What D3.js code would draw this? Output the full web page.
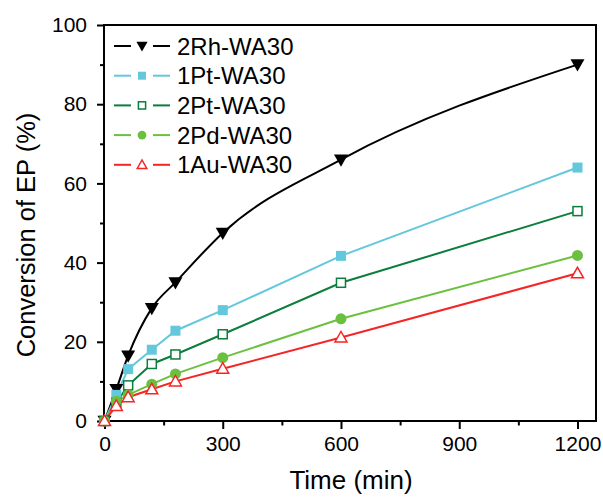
<!DOCTYPE html>
<html><head><meta charset="utf-8">
<script src="https://cdn.jsdelivr.net/npm/d3@7"></script>
<style>body{margin:0;background:#fff}svg{display:block}text{font-family:"Liberation Sans",Arial,sans-serif;fill:#000}</style>
</head><body>
<svg id="c" width="603" height="497"></svg>
<script>
const times = [0, 30, 60, 120, 180, 300, 600, 1200];
const rh2 = [0, 8, 16.5, 28.5, 35, 47.5, 66, 90];
const pt1 = [0, 6.6, 13.1, 18, 22.8, 28, 41.7, 64];
const pt2 = [0, 4.6, 9, 14.4, 16.8, 21.9, 34.9, 53];
const pd2 = [0, 5, 6.6, 9.3, 11.9, 16, 25.8, 41.8];
const au1 = [0, 3.8, 6, 8, 10, 13.2, 21.1, 37.3];
const seriesNames = ["2Rh-WA30", "1Pt-WA30", "2Pt-WA30", "2Pd-WA30", "1Au-WA30"];
const seriesColors = ["#000000", "#63c8dc", "#0b7d3c", "#6cc040", "#f52525"];
const seriesSymbols = ["tridown", "square", "squareOpen", "circle", "triOpen"];
const xTicks = [0, 300, 600, 900, 1200];
const yTicks = [0, 20, 40, 60, 80, 100];

const svg = d3.select("#c");
const L = 104, T = 25, R = 596, B = 421;
const x = d3.scaleLinear().domain([0, 1247]).range([L + 0.5, R]);
const y = d3.scaleLinear().domain([0, 100]).range([B, T]);

const data = [rh2, pt1, pt2, pd2, au1].map((vals, i) => ({
  name: seriesNames[i], color: seriesColors[i], sym: seriesSymbols[i],
  pts: times.map((t, j) => [t, vals[j]])
}));

// frame
svg.append("rect").attr("x", L).attr("y", T).attr("width", R - L).attr("height", B - T)
  .attr("fill", "none").attr("stroke", "#000").attr("stroke-width", 2);

const FF = '"Liberation Sans",Arial,sans-serif';
// x axis
const xAxis = d3.axisBottom(x).tickValues(xTicks).tickSize(8).tickPadding(7).tickFormat(d3.format("d"));
const gx = svg.append("g").attr("transform", `translate(0,${B})`).call(xAxis);
gx.select(".domain").remove();
gx.selectAll(".tick line").attr("stroke-width", 2);
gx.selectAll("text").style("font-size", "21px").style("font-family", FF);
const gxm = svg.append("g").attr("transform", `translate(0,${B})`)
  .call(d3.axisBottom(x).tickValues([150, 450, 750, 1050]).tickSize(4.5).tickFormat(""));
gxm.select(".domain").remove();
gxm.selectAll(".tick line").attr("stroke-width", 2);

// y axis
const yAxis = d3.axisLeft(y).tickValues(yTicks).tickSize(7).tickPadding(10);
const gy = svg.append("g").attr("transform", `translate(${L},0)`).call(yAxis);
gy.select(".domain").remove();
gy.selectAll(".tick line").attr("stroke-width", 2);
gy.selectAll("text").style("font-size", "21px").style("font-family", FF);
const gym = svg.append("g").attr("transform", `translate(${L},0)`)
  .call(d3.axisLeft(y).tickValues([10, 30, 50, 70, 90]).tickSize(4).tickFormat(""));
gym.select(".domain").remove();
gym.selectAll(".tick line").attr("stroke-width", 2);

// titles
svg.append("text").attr("x", 351).attr("y", 489).attr("text-anchor", "middle")
  .style("font-size", "26px").text("Time (min)");
svg.append("text").attr("transform", `translate(35,235) rotate(-90)`).attr("text-anchor", "middle")
  .style("font-size", "25.5px").text("Conversion of EP (%)");

// lines
data.forEach((s, i) => {
  const line = d3.line().x(d => x(d[0])).y(d => y(d[1]))
    .curve(i === 0 ? d3.curveMonotoneX : d3.curveLinear);
  svg.append("path").datum(s.pts).attr("d", line).attr("fill", "none")
    .attr("stroke", s.color).attr("stroke-width", 2);
});

function drawMarker(g, sym, color, cx, cy, k) {
  if (sym === "tridown") {
    const a = 7 * k;
    g.append("path").attr("d", `M${cx - a},${cy - a * 0.75}L${cx + a},${cy - a * 0.75}L${cx},${cy + a * 1.0}Z`)
      .attr("fill", color);
  } else if (sym === "square") {
    const a = 5 * k;
    g.append("rect").attr("x", cx - a).attr("y", cy - a).attr("width", 2 * a).attr("height", 2 * a).attr("fill", color);
  } else if (sym === "squareOpen") {
    const a = 4.5 * k;
    g.append("rect").attr("x", cx - a).attr("y", cy - a).attr("width", 2 * a).attr("height", 2 * a)
      .attr("fill", "#fff").attr("stroke", color).attr("stroke-width", 1.5);
  } else if (sym === "circle") {
    g.append("circle").attr("cx", cx).attr("cy", cy).attr("r", 5.5 * k).attr("fill", color);
  } else if (sym === "triOpen") {
    const a = 6 * k;
    g.append("path").attr("d", `M${cx - a},${cy + a * 0.75}L${cx + a},${cy + a * 0.75}L${cx},${cy - a * 1.0}Z`)
      .attr("fill", "#fff").attr("stroke", color).attr("stroke-width", 1.5);
  }
}

data.forEach(s => {
  const g = svg.append("g");
  s.pts.forEach(p => drawMarker(g, s.sym, s.color, x(p[0]), y(p[1]), 1));
});

// legend
const lg = svg.append("g");
data.forEach((s, i) => {
  const yy = 46 + i * 29.7;
  lg.append("line").attr("x1", 114).attr("x2", 131).attr("y1", yy).attr("y2", yy).attr("stroke", s.color).attr("stroke-width", 2);
  lg.append("line").attr("x1", 153).attr("x2", 170).attr("y1", yy).attr("y2", yy).attr("stroke", s.color).attr("stroke-width", 2);
  drawMarker(lg, s.sym, s.color, 142, yy, 0.8);
  lg.append("text").attr("x", 177).attr("y", yy).attr("dy", "0.36em").style("font-size", "24px").text(s.name);
});
</script>
</body></html>
